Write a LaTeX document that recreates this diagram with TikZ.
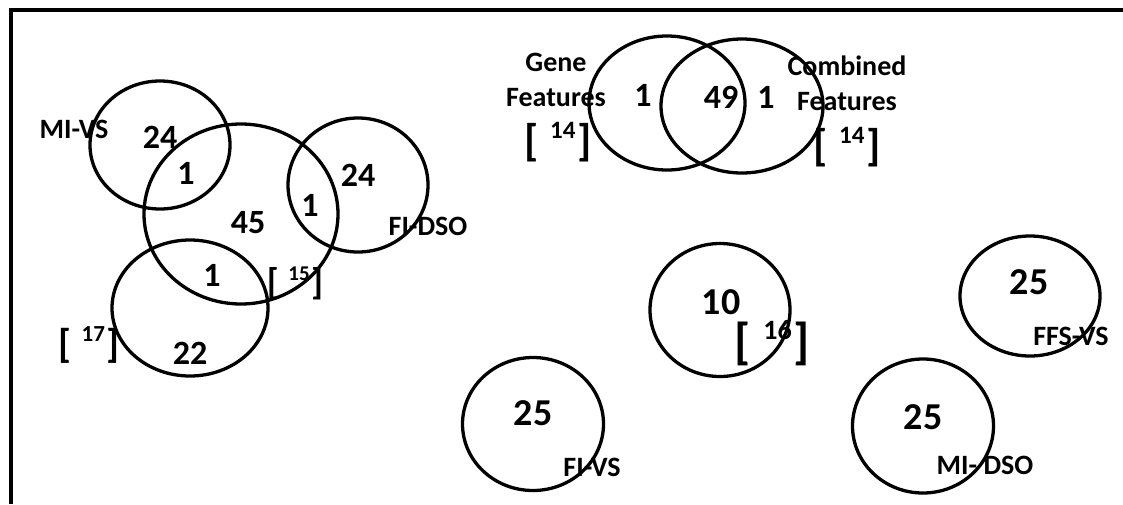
\documentclass[tikz,border=0pt]{standalone}
\usepackage{fontspec}
\setmainfont{Carlito}
\usetikzlibrary{shapes.geometric}
\newcommand\myref[3]{{\fontsize{#1}{#1}\selectfont[}\hspace{\dimexpr #1pt*26/100\relax}\raisebox{\dimexpr #1pt*38/100\relax}{\fontsize{#2}{#2}\selectfont #3}\hspace{\dimexpr #1pt*4/100\relax}{\fontsize{#1}{#1}\selectfont]}}
\begin{document}
\begin{tikzpicture}[x=1pt,y=-1pt,
  venn/.style={ellipse, draw, line width=3.3pt, inner sep=0pt},
  numL/.style={font=\fontsize{34}{34}\selectfont\bfseries, inner sep=0pt},
  numB/.style={font=\fontsize{38}{38}\selectfont\bfseries, inner sep=0pt},
  lbl/.style={font=\fontsize{28}{28}\selectfont\bfseries, inner sep=0pt},
  glbl/.style={font=\fontsize{28}{35}\selectfont\bfseries, inner sep=0pt, align=center},
  refb/.style={font=\bfseries, inner sep=0pt}]
\useasboundingbox (0,0) rectangle (1123,504);
\fill[white] (0,0) rectangle (1123,504);
% frame
\coordinate (fTL) at (11,10);
\coordinate (fBL) at (11,504);
\coordinate (fTR) at (1123,10);
\draw[line width=4pt] (fBL) -- (fTL) -- (fTR);
% left group
\node[venn, minimum width=140pt, minimum height=128pt] (mivs) at (160,145) {};
\node[venn, minimum width=194pt, minimum height=180pt] (big) at (241,214) {};
\node[venn, minimum width=140pt, minimum height=134pt] (fidso) at (358,185) {};
\node[venn, minimum width=156pt, minimum height=136pt] (bot) at (190,308) {};
\node[lbl] (tmivs) at (74,129) {MI-VS};
\node[numL] (n24a) at (160,137) {24};
\node[numL] (n1a) at (186,173) {1};
\node[numL] (n45) at (248,223) {45};
\node[numL] (n1b) at (310,205) {1};
\node[numL] (n24b) at (358,175) {24};
\node[lbl] (tfidso) at (428,226) {FI-DSO};
\node[numL] (n1c) at (212,275) {1};
\node[refb] (r15) at (295,283) {\myref{37}{21}{15}};
\node[refb] (r17) at (89,345) {\myref{40}{23}{17}};
\node[numL] (n22) at (190,353) {22};
% top group
\node[venn, minimum width=156pt, minimum height=134pt] (gene) at (667,103) {};
\node[venn, minimum width=162pt, minimum height=134pt] (comb) at (742,106) {};
\node[glbl] (tgene) at (556,80) {Gene\\Features};
\node[refb] (r14a) at (558,142) {\myref{44}{25}{14}};
\node[glbl] (tcomb) at (847,83) {Combined\\Features};
\node[refb] (r14b) at (847,147) {\myref{44}{25}{14}};
\node[numL] (n1d) at (643,95) {1};
\node[numL] (n49) at (721,97) {49};
\node[numL] (n1e) at (766,97) {1};
% single circles
\node[venn, minimum width=140pt, minimum height=133pt] (c10) at (720,310) {};
\node[numB] (n10) at (721,302) {10};
\node[refb] (r16) at (772,343) {\myref{50}{28}{16}};
\node[venn, minimum width=140pt, minimum height=120pt] (ffs) at (1030,296) {};
\node[numB] (n25a) at (1029,282) {25};
\node[lbl] (tffs) at (1071,336) {FFS-VS};
\node[venn, minimum width=141pt, minimum height=133pt] (fivs) at (533,424) {};
\node[numB] (n25b) at (533,413) {25};
\node[lbl] (tfivs) at (592,467) {FI-VS};
\node[venn, minimum width=141pt, minimum height=134pt] (midso) at (923,426) {};
\node[numB] (n25c) at (923,417) {25};
\node[lbl] (tmidso) at (985,465) {MI- DSO};
\end{tikzpicture}
\end{document}
